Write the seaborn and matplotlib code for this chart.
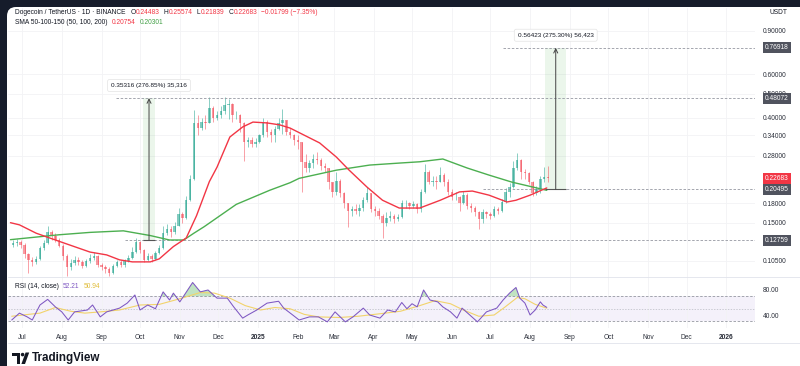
import numpy as np
import pandas as pd
import matplotlib
matplotlib.use("Agg")
import matplotlib.pyplot as plt
import matplotlib.dates as mdates
import matplotlib.transforms as mtransforms
from matplotlib.patches import FancyBboxPatch, Rectangle, Polygon, Circle
from matplotlib.lines import Line2D
from matplotlib.ticker import NullLocator
import seaborn as sns

# ---------------- data ----------------
candle_start = "2024-06-23"
candle_days = 3
first_open = 0.122
closes = [
    0.124, 0.125, 0.122, 0.112, 0.106, 0.104, 0.107, 0.118, 0.124, 0.138,
    0.132, 0.128, 0.121, 0.110, 0.099, 0.103, 0.106, 0.104, 0.100, 0.105,
    0.108, 0.110, 0.101, 0.099, 0.097, 0.094, 0.100, 0.104, 0.101, 0.105,
    0.108, 0.114, 0.125, 0.116, 0.106, 0.110, 0.107, 0.113, 0.118, 0.136,
    0.142, 0.137, 0.146, 0.163, 0.157, 0.185, 0.225, 0.380, 0.365, 0.385,
    0.382, 0.440, 0.400, 0.410, 0.425, 0.450, 0.455, 0.410, 0.410, 0.380,
    0.320, 0.325, 0.312, 0.320, 0.340, 0.385, 0.350, 0.340, 0.360, 0.380,
    0.390, 0.350, 0.340, 0.325, 0.320, 0.265, 0.250, 0.262, 0.272, 0.270,
    0.255, 0.250, 0.220, 0.200, 0.222, 0.198, 0.180, 0.168, 0.170, 0.168,
    0.172, 0.185, 0.198, 0.170, 0.168, 0.160, 0.150, 0.156, 0.160, 0.155,
    0.158, 0.180, 0.180, 0.175, 0.178, 0.170, 0.200, 0.240, 0.220, 0.222,
    0.220, 0.235, 0.220, 0.200, 0.190, 0.190, 0.180, 0.195, 0.175, 0.172,
    0.165, 0.155, 0.165, 0.162, 0.160, 0.170, 0.168, 0.182, 0.200, 0.210,
    0.250, 0.270, 0.240, 0.238, 0.220, 0.198, 0.205, 0.225, 0.230, 0.22683,
]
highs = [
    0.128, 0.129, 0.127, 0.124, 0.113, 0.109, 0.110, 0.121, 0.128, 0.145,
    0.140, 0.136, 0.130, 0.123, 0.112, 0.107, 0.110, 0.109, 0.106, 0.107,
    0.112, 0.114, 0.111, 0.103, 0.101, 0.099, 0.102, 0.106, 0.106, 0.107,
    0.111, 0.119, 0.130, 0.126, 0.117, 0.113, 0.112, 0.115, 0.122, 0.145,
    0.148, 0.145, 0.151, 0.172, 0.166, 0.192, 0.235, 0.430, 0.410, 0.400,
    0.410, 0.484, 0.445, 0.425, 0.445, 0.484, 0.475, 0.460, 0.425, 0.415,
    0.385, 0.335, 0.335, 0.330, 0.345, 0.400, 0.390, 0.360, 0.370, 0.400,
    0.432, 0.390, 0.365, 0.345, 0.340, 0.320, 0.285, 0.270, 0.285, 0.290,
    0.275, 0.262, 0.250, 0.220, 0.240, 0.225, 0.200, 0.180, 0.176, 0.178,
    0.178, 0.190, 0.210, 0.198, 0.175, 0.172, 0.162, 0.165, 0.168, 0.162,
    0.162, 0.185, 0.186, 0.182, 0.183, 0.180, 0.205, 0.260, 0.245, 0.232,
    0.232, 0.252, 0.238, 0.225, 0.205, 0.200, 0.192, 0.202, 0.198, 0.180,
    0.175, 0.168, 0.170, 0.168, 0.166, 0.175, 0.174, 0.188, 0.207, 0.218,
    0.268, 0.287, 0.272, 0.248, 0.240, 0.222, 0.212, 0.232, 0.252, 0.25574,
]
lows = [
    0.119, 0.121, 0.118, 0.108, 0.094, 0.100, 0.102, 0.106, 0.116, 0.123,
    0.128, 0.125, 0.119, 0.106, 0.091, 0.096, 0.101, 0.101, 0.098, 0.099,
    0.103, 0.106, 0.099, 0.096, 0.094, 0.091, 0.093, 0.099, 0.099, 0.099,
    0.104, 0.107, 0.113, 0.113, 0.104, 0.105, 0.104, 0.106, 0.112, 0.117,
    0.134, 0.131, 0.135, 0.145, 0.150, 0.155, 0.184, 0.223, 0.340, 0.355,
    0.360, 0.380, 0.385, 0.390, 0.400, 0.415, 0.395, 0.385, 0.395, 0.350,
    0.268, 0.305, 0.305, 0.305, 0.315, 0.335, 0.335, 0.320, 0.318, 0.355,
    0.345, 0.340, 0.330, 0.310, 0.300, 0.200, 0.240, 0.240, 0.250, 0.260,
    0.245, 0.240, 0.205, 0.190, 0.195, 0.190, 0.172, 0.144, 0.160, 0.162,
    0.160, 0.168, 0.182, 0.165, 0.160, 0.155, 0.130, 0.145, 0.152, 0.150,
    0.153, 0.156, 0.172, 0.170, 0.172, 0.164, 0.165, 0.198, 0.215, 0.212,
    0.205, 0.220, 0.212, 0.195, 0.186, 0.185, 0.168, 0.178, 0.170, 0.165,
    0.160, 0.142, 0.150, 0.156, 0.155, 0.158, 0.163, 0.166, 0.180, 0.190,
    0.208, 0.245, 0.225, 0.225, 0.215, 0.192, 0.195, 0.198, 0.220, 0.21839,
]

sma50_dates = ["2024-06-22", "2024-06-29", "2024-07-12", "2024-07-30", "2024-08-23",
               "2024-09-05", "2024-09-15", "2024-09-25", "2024-10-09", "2024-10-16",
               "2024-10-27", "2024-11-06", "2024-11-14", "2024-11-24", "2024-11-30",
               "2024-12-10", "2024-12-20", "2024-12-28", "2025-01-08", "2025-01-18",
               "2025-01-26", "2025-02-18", "2025-03-03", "2025-03-13", "2025-03-27",
               "2025-04-08", "2025-04-21", "2025-05-07", "2025-05-23", "2025-06-07",
               "2025-06-17", "2025-06-30", "2025-07-14", "2025-07-21", "2025-08-01",
               "2025-08-14"]
sma50_values = [0.150, 0.147, 0.136, 0.126, 0.114,
                0.111, 0.106, 0.104, 0.104, 0.107,
                0.120, 0.130, 0.160, 0.220, 0.252,
                0.334, 0.367, 0.384, 0.381, 0.374,
                0.363, 0.316, 0.277, 0.245, 0.209,
                0.185, 0.172, 0.172, 0.185, 0.200,
                0.2016, 0.194, 0.182, 0.185, 0.194,
                0.20754]

sma200_dates = ["2024-06-22", "2024-07-30", "2024-08-23", "2024-09-18", "2024-10-09",
                "2024-10-24", "2024-11-04", "2024-11-12", "2024-11-20", "2024-12-15",
                "2025-01-10", "2025-01-26", "2025-02-02", "2025-03-03", "2025-03-29",
                "2025-04-22", "2025-05-07", "2025-05-25", "2025-06-13", "2025-06-30",
                "2025-07-18", "2025-08-14"]
sma200_values = [0.128, 0.134, 0.137, 0.139, 0.133,
                 0.1276, 0.1276, 0.136, 0.1445, 0.178,
                 0.203, 0.218, 0.227, 0.245, 0.257,
                 0.262, 0.265, 0.272, 0.250, 0.234,
                 0.219, 0.20301]

rsi_dates = ["2024-06-23", "2024-06-29", "2024-07-05", "2024-07-09", "2024-07-15",
             "2024-07-21", "2024-07-27", "2024-08-01", "2024-08-06", "2024-08-11",
             "2024-08-21", "2024-08-25", "2024-08-31", "2024-09-05", "2024-09-15",
             "2024-09-21", "2024-09-27", "2024-10-01", "2024-10-07", "2024-10-13",
             "2024-10-19", "2024-10-24", "2024-10-27", "2024-11-01", "2024-11-11",
             "2024-11-17", "2024-11-23", "2024-11-30", "2024-12-08", "2024-12-13",
             "2024-12-20", "2024-12-24", "2024-12-31", "2025-01-08", "2025-01-17",
             "2025-01-21", "2025-01-28", "2025-02-02", "2025-02-10", "2025-02-17",
             "2025-02-24", "2025-03-02", "2025-03-10", "2025-03-16", "2025-03-24",
             "2025-03-29", "2025-04-06", "2025-04-12", "2025-04-18", "2025-04-23",
             "2025-04-27", "2025-05-01", "2025-05-05", "2025-05-10", "2025-05-15",
             "2025-05-21", "2025-05-25", "2025-05-31", "2025-06-05", "2025-06-09",
             "2025-06-15", "2025-06-21", "2025-06-28", "2025-07-06", "2025-07-11",
             "2025-07-16", "2025-07-21", "2025-07-24", "2025-07-28", "2025-08-01",
             "2025-08-05", "2025-08-09", "2025-08-11", "2025-08-14"]
rsi_values = [32, 43, 37, 32, 56, 65, 53, 45, 32, 45,
              48, 56, 37, 45, 51, 59, 72, 48, 56, 50,
              77, 64, 75, 61, 92, 77, 80, 67, 67, 53,
              35, 40, 48, 59, 62, 51, 40, 32, 37, 37,
              29, 45, 29, 37, 51, 40, 35, 48, 45, 60,
              50, 58, 53, 80, 64, 61, 53, 45, 35, 51,
              40, 29, 45, 51, 64, 75, 84, 67, 59, 40,
              48, 61, 56, 52.21]

rsi_ma_dates = ["2024-06-23", "2024-07-15", "2024-07-27", "2024-08-08", "2024-08-19",
                "2024-08-31", "2024-09-15", "2024-10-01", "2024-10-16", "2024-11-01",
                "2024-11-17", "2024-11-28", "2024-12-10", "2024-12-22", "2025-01-03",
                "2025-01-14", "2025-01-26", "2025-02-06", "2025-02-17", "2025-03-05",
                "2025-03-20", "2025-04-06", "2025-04-22", "2025-05-07", "2025-05-19",
                "2025-05-31", "2025-06-10", "2025-06-22", "2025-07-04", "2025-07-12",
                "2025-07-22", "2025-07-28", "2025-08-05", "2025-08-14"]
rsi_ma_values = [38, 43, 52, 46, 43,
                 45, 48, 56, 57, 66,
                 76, 75, 67, 55, 48,
                 52, 50, 41, 37, 36,
                 38, 42, 46, 55, 63,
                 58, 48, 38, 40, 52,
                 68, 66, 57, 50.94]

price_ticks = [0.105, 0.15, 0.18, 0.28, 0.34, 0.40, 0.50, 0.60, 0.90]
rsi_ticks = [40, 80]
month_ticks = ["2024-07-01", "2024-08-01", "2024-09-01", "2024-10-01", "2024-11-01",
               "2024-12-01", "2025-01-01", "2025-02-01", "2025-03-01", "2025-04-01",
               "2025-05-01", "2025-06-01", "2025-07-01", "2025-08-01", "2025-09-01",
               "2025-10-01", "2025-11-01", "2025-12-01", "2026-01-01"]
month_labels = ["Jul", "Aug", "Sep", "Oct", "Nov", "Dec", "2025", "Feb", "Mar", "Apr",
                "May", "Jun", "Jul", "Aug", "Sep", "Oct", "Nov", "Dec", "2026"]

badge_levels = [0.76918, 0.48072, 0.22683, 0.20495, 0.12759]
badge_is_last_price = [False, False, True, False, False]

level_lines = [0.48072, 0.12759, 0.76918, 0.20495]
level_line_from = ["2024-09-12", "2024-09-19", "2025-07-11", "2025-06-25"]

measure_low = [0.12759, 0.20495]
measure_high = [0.48072, 0.76918]
measure_from = ["2024-10-03", "2025-08-13"]
measure_to = ["2024-10-13", "2025-08-29"]
measure_at = ["2024-10-08", "2025-08-21"]
measure_text = ["0.35316 (276.85%) 35,316", "0.56423 (275.30%) 56,423"]

symbol_title = "Dogecoin / TetherUS · 1D · BINANCE"
ohlc_letters = ["O", "H", "L", "C"]
ohlc_values = [0.24483, 0.25574, 0.21839, 0.22683]
change_text = "−0.01799 (−7.35%)"
sma_title = "SMA 50-100-150 (50, 100, 200)"
sma_last = [0.20754, 0.20301]
rsi_title = "RSI (14, close)"
rsi_last = [52.21, 50.94]

# ---------------- style ----------------
sns.set_theme(style="white")
plt.rcParams["font.family"] = ["Liberation Sans", "DejaVu Sans"]

W, H, DPI = 800, 366, 100
PX_L, PX_R = 8, 755
PRICE_TOP, PRICE_BOT = 8, 277
RSI_TOP, RSI_BOT = 277, 328
PX_JUL1, PX_PER_DAY = 22, 1.283

DARK = "#131722"
UP = "#089981"
DN = "#f23645"
RED_LINE = "#f23645"
GREEN_LINE = "#4caf50"
PURPLE = "#7e57c2"
YELLOW = "#f2d36b"
GREY_BADGE = "#50535e"
FS = 4.8


def fx(px):
    return px / W


def fy(py):
    return 1 - py / H


def dnum(lst):
    return mdates.date2num(pd.to_datetime(lst))


fig = plt.figure(figsize=(W / DPI, H / DPI), dpi=DPI)
fig.patch.set_facecolor("#161c2b")
card = FancyBboxPatch((7 / DPI, -0.3), 9.0, (H - 7) / DPI + 0.3,
                      boxstyle="round,pad=0,rounding_size=0.09",
                      transform=fig.dpi_scale_trans, fc="white", ec="none", zorder=-10)
fig.patches.append(card)

ax = fig.add_axes([fx(PX_L), fy(PRICE_BOT), (PX_R - PX_L) / W, (PRICE_BOT - PRICE_TOP) / H])
axr = fig.add_axes([fx(PX_L), fy(RSI_BOT), (PX_R - PX_L) / W, (RSI_BOT - RSI_TOP) / H], sharex=ax)
for a in (ax, axr):
    a.set_facecolor("none")
    for s in a.spines.values():
        s.set_visible(False)

base = mdates.date2num(pd.Timestamp("2024-07-01"))
xl = (base + (PX_L - PX_JUL1) / PX_PER_DAY, base + (PX_R - PX_JUL1) / PX_PER_DAY)

# ---------------- price pane ----------------
ax.set_yscale("log")
ax.set_ylim(0.0903, 1.115)
ax.set_xlim(*xl)

cx = mdates.date2num(pd.date_range(candle_start, periods=len(closes), freq=f"{candle_days}D")) + 1.0
o = np.array([first_open] + closes[:-1])
c = np.array(closes)
hi = np.array(highs)
lo = np.array(lows)
up = c >= o
cols = np.where(up, UP, DN)
ax.vlines(cx, lo, hi, colors=cols, lw=0.6, alpha=0.55, zorder=2)
bot = np.minimum(o, c)
top = np.maximum(o, c)
ax.bar(cx, np.maximum(top - bot, 0.0008), bottom=bot, width=1.9, color=cols,
       alpha=0.5, linewidth=0, zorder=2)

sns.lineplot(x=dnum(sma200_dates), y=sma200_values, ax=ax, color=GREEN_LINE, lw=1.0, zorder=3)
sns.lineplot(x=dnum(sma50_dates), y=sma50_values, ax=ax, color=RED_LINE, lw=1.0, zorder=3)

for lvl, frm in zip(level_lines, level_line_from):
    ax.hlines(lvl, mdates.date2num(pd.Timestamp(frm)), xl[1], colors="#9598a1",
              linestyles=(0, (3, 2)), lw=0.6, zorder=2)

for mlo, mhi, a0, a1, at, txt in zip(measure_low, measure_high, measure_from, measure_to,
                                       measure_at, measure_text):
    x0, x1, xa = dnum([a0, a1, at])
    ax.fill_between([x0, x1], mlo, mhi, color="#4caf50", alpha=0.11, lw=0, zorder=1)
    ax.hlines(mlo, x0, x1, colors="#555", lw=0.8, zorder=4)
    ax.annotate("", xy=(xa, mhi), xytext=(xa, mlo),
                arrowprops=dict(arrowstyle="->,head_length=0.25,head_width=0.12",
                                color="#444", lw=0.7, shrinkA=0, shrinkB=0), zorder=4)
    ax.annotate(txt, xy=(xa, mhi), xytext=(0, 9), textcoords="offset points",
                ha="center", va="center", fontsize=4.6, color=DARK, zorder=6,
                bbox=dict(boxstyle="round,pad=0.55,rounding_size=0.3", fc="white",
                          ec="#e3e3e3", lw=0.5))

ax.set_xlabel("")
ax.set_ylabel("")
ax.yaxis.tick_right()
ax.set_yticks(price_ticks)
ax.set_yticklabels([f"{v:.5f}" for v in price_ticks])
ax.yaxis.set_minor_locator(NullLocator())
ax.tick_params(axis="y", length=0, pad=5.6, labelsize=FS, labelcolor="#2a2e39")
ax.tick_params(axis="x", length=0, labelbottom=False)
ax.grid(True, color="#f2f3f5", lw=0.6, zorder=0)

btrans = mtransforms.blended_transform_factory(ax.transAxes, ax.transData)
for lvl, last in zip(badge_levels, badge_is_last_price):
    ax.text(1 + 10 / (PX_R - PX_L), lvl, f"{lvl:.5f}", transform=btrans, ha="left",
            va="center", fontsize=FS, color="white", zorder=10, clip_on=False,
            bbox=dict(boxstyle="square,pad=0.3", fc=DN if last else GREY_BADGE, ec="none"))

# ---------------- RSI pane ----------------
axr.set_ylim(19.2, 100.8)
axr.axhspan(30, 70, color=PURPLE, alpha=0.08, lw=0, zorder=0)
axr.axhline(70, color="#9598a1", ls=(0, (3, 2)), lw=0.6, zorder=1)
axr.axhline(30, color="#9598a1", ls=(0, (3, 2)), lw=0.6, zorder=1)
axr.axhline(50, color="#b8bac2", ls=(0, (2, 2)), lw=0.5, zorder=1)
rx = dnum(rsi_dates)
rv = np.array(rsi_values, dtype=float)
axr.fill_between(rx, rv, 70, where=rv > 70, interpolate=True, color="#4caf50", alpha=0.35, lw=0)
axr.fill_between(rx, rv, 30, where=rv < 30, interpolate=True, color=DN, alpha=0.3, lw=0)
sns.lineplot(x=dnum(rsi_ma_dates), y=rsi_ma_values, ax=axr, color=YELLOW, lw=0.8, zorder=3)
sns.lineplot(x=rx, y=rv, ax=axr, color=PURPLE, lw=0.75, zorder=4)
axr.set_xlabel("")
axr.set_ylabel("")
axr.yaxis.tick_right()
axr.set_yticks(rsi_ticks)
axr.set_yticklabels([f"{v:.2f}" for v in rsi_ticks])
axr.tick_params(axis="y", length=0, pad=5.6, labelsize=FS, labelcolor="#2a2e39")
axr.set_xticks(dnum(month_ticks))
axr.set_xticklabels(month_labels)
axr.tick_params(axis="x", length=0, pad=4.5, labelsize=FS, labelcolor="#2a2e39")
for t in axr.get_xticklabels():
    if t.get_text().isdigit():
        t.set_fontweight("bold")
axr.grid(True, axis="x", color="#f2f3f5", lw=0.6, zorder=0)
axr.set_xlim(*xl)

# ---------------- separators ----------------
for yy in (RSI_TOP, 343):
    fig.add_artist(Line2D([fx(8), 1], [fy(yy), fy(yy)], color="#e0e3eb", lw=0.6))

# ---------------- header texts ----------------
renderer = fig.canvas.get_renderer()


def seq_text(x_px, y_px, segs, size=FS):
    x = x_px
    for txt, col, gap in segs:
        t = fig.text(fx(x), fy(y_px), txt, color=col, fontsize=size, ha="left", va="center")
        bb = t.get_window_extent(renderer=renderer)
        x = bb.x1 + gap


row1 = [(symbol_title, DARK, 5)]
for letter, val in zip(ohlc_letters, ohlc_values):
    row1.append((letter, DARK, 0.3))
    row1.append((f"{val:.5f}", DN, 4))
row1.append((change_text, DN, 0))
seq_text(15, 12, row1)
seq_text(15, 23, [(sma_title, DARK, 4), (f"{sma_last[0]:.5f}", DN, 4),
                  (f"{sma_last[1]:.5f}", "#43a047", 0)])
seq_text(15, 286, [(rsi_title, DARK, 4), (f"{rsi_last[0]:.2f}", PURPLE, 4),
                   (f"{rsi_last[1]:.2f}", "#e0bd3a", 0)])
fig.text(fx(778), fy(13), "USDT", color=DARK, fontsize=FS, ha="center", va="center")

# ---------------- TradingView logo ----------------
def P(x, y):
    return (x / DPI, (H - y) / DPI)


tr = fig.dpi_scale_trans
fig.patches.append(Polygon([P(12, 352.5), P(19.8, 352.5), P(19.8, 364), P(16.6, 364),
                            P(16.6, 355.6), P(12, 355.6)], closed=True, fc=DARK, ec="none",
                           transform=tr))
fig.patches.append(Circle(P(22.6, 354.6), 1.8 / DPI, fc=DARK, ec="none", transform=tr))
fig.patches.append(Polygon([P(25.6, 352.5), P(29.2, 352.5), P(25.0, 364), P(21.4, 364)],
                           closed=True, fc=DARK, ec="none", transform=tr))
fig.text(fx(31.5), fy(358.5), "TradingView", color=DARK, fontsize=8.4, fontweight="bold",
         ha="left", va="center")

fig.savefig("out.png", dpi=DPI, facecolor=fig.get_facecolor())
